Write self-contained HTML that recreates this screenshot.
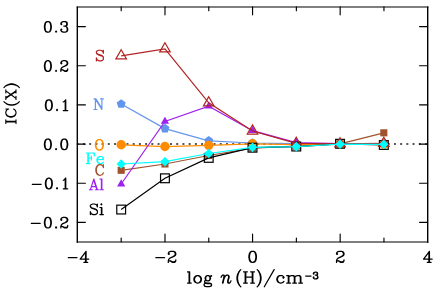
<!DOCTYPE html>
<html><head><meta charset="utf-8"><title>IC(X)</title>
<style>html,body{margin:0;padding:0;background:#fff;}body{width:436px;height:295px;overflow:hidden;position:relative;font-family:"Liberation Sans",sans-serif;}</style>
</head><body>
<svg width="436" height="295" viewBox="0 0 436 295" style="position:absolute;left:0;top:0">
<rect width="436" height="295" fill="#fff"/>
<line x1="77.30" y1="143.95" x2="427.65" y2="143.95" stroke="#222" stroke-width="1.6" stroke-dasharray="2.0 4.22" stroke-dashoffset="0.6"/>
<polyline points="121.18,170.30 164.95,163.99 208.72,155.53 252.50,148.09 296.27,146.13 340.05,143.78 383.83,132.82" fill="none" stroke="#a0522d" stroke-width="1.2"/>
<rect x="117.63" y="166.75" width="7.10" height="7.10" fill="#a0522d"/>
<rect x="161.40" y="160.44" width="7.10" height="7.10" fill="#a0522d"/>
<rect x="205.17" y="151.98" width="7.10" height="7.10" fill="#a0522d"/>
<rect x="248.95" y="144.54" width="7.10" height="7.10" fill="#a0522d"/>
<rect x="292.72" y="142.58" width="7.10" height="7.10" fill="#a0522d"/>
<rect x="336.50" y="140.23" width="7.10" height="7.10" fill="#a0522d"/>
<rect x="380.28" y="129.27" width="7.10" height="7.10" fill="#a0522d"/>
<polyline points="121.18,103.91 164.95,128.59 208.72,140.81 252.50,143.00 296.27,143.59 340.05,143.78 383.83,143.78" fill="none" stroke="#6495ed" stroke-width="1.2"/>
<polygon points="121.18,99.16 125.69,102.44 123.97,107.76 118.38,107.76 116.66,102.44" fill="#6495ed"/>
<polygon points="164.95,123.84 169.47,127.12 167.74,132.43 162.16,132.43 160.43,127.12" fill="#6495ed"/>
<polygon points="208.72,136.06 213.24,139.34 211.52,144.65 205.93,144.65 204.21,139.34" fill="#6495ed"/>
<polygon points="252.50,138.25 257.02,141.53 255.29,146.84 249.71,146.84 247.98,141.53" fill="#6495ed"/>
<polygon points="296.27,138.84 300.79,142.12 299.07,147.43 293.48,147.43 291.76,142.12" fill="#6495ed"/>
<polygon points="340.05,139.03 344.57,142.32 342.84,147.63 337.26,147.63 335.53,142.32" fill="#6495ed"/>
<polygon points="383.83,139.03 388.34,142.32 386.62,147.63 381.03,147.63 379.31,142.32" fill="#6495ed"/>
<polyline points="121.18,144.80 164.95,146.53 208.72,145.35 252.50,143.78 296.27,144.69 340.05,144.18 383.83,144.18" fill="none" stroke="#ff8c00" stroke-width="1.2"/>
<circle cx="121.18" cy="144.80" r="4.7" fill="#ff8c00"/>
<circle cx="164.95" cy="146.53" r="4.7" fill="#ff8c00"/>
<circle cx="208.72" cy="145.35" r="4.7" fill="#ff8c00"/>
<circle cx="252.50" cy="143.78" r="4.7" fill="#ff8c00"/>
<circle cx="296.27" cy="144.69" r="4.7" fill="#ff8c00"/>
<circle cx="340.05" cy="144.18" r="4.7" fill="#ff8c00"/>
<circle cx="383.83" cy="144.18" r="4.7" fill="#ff8c00"/>
<polyline points="121.18,184.01 164.95,121.38 208.72,106.18 252.50,130.66 296.27,142.61 340.05,143.59 383.83,143.78" fill="none" stroke="#a020f0" stroke-width="1.2"/>
<polygon points="121.18,179.26 125.29,186.38 117.06,186.38" fill="#a020f0"/>
<polygon points="164.95,116.63 169.06,123.76 160.84,123.76" fill="#a020f0"/>
<polygon points="208.72,101.43 212.84,108.56 204.61,108.56" fill="#a020f0"/>
<polygon points="252.50,125.91 256.61,133.04 248.39,133.04" fill="#a020f0"/>
<polygon points="296.27,137.86 300.39,144.98 292.16,144.98" fill="#a020f0"/>
<polygon points="340.05,138.84 344.16,145.96 335.94,145.96" fill="#a020f0"/>
<polygon points="383.83,139.03 387.94,146.16 379.71,146.16" fill="#a020f0"/>
<polyline points="121.18,209.55 164.95,178.29 208.72,157.88 252.50,147.70 296.27,146.53 340.05,143.78 383.83,144.96" fill="none" stroke="#000000" stroke-width="1.2"/>
<rect x="116.78" y="205.15" width="8.80" height="8.80" fill="none" stroke="#000000" stroke-width="1.2"/>
<rect x="160.55" y="173.89" width="8.80" height="8.80" fill="none" stroke="#000000" stroke-width="1.2"/>
<rect x="204.32" y="153.48" width="8.80" height="8.80" fill="none" stroke="#000000" stroke-width="1.2"/>
<rect x="248.10" y="143.30" width="8.80" height="8.80" fill="none" stroke="#000000" stroke-width="1.2"/>
<rect x="291.88" y="142.13" width="8.80" height="8.80" fill="none" stroke="#000000" stroke-width="1.2"/>
<rect x="335.65" y="139.38" width="8.80" height="8.80" fill="none" stroke="#000000" stroke-width="1.2"/>
<rect x="379.43" y="140.56" width="8.80" height="8.80" fill="none" stroke="#000000" stroke-width="1.2"/>
<polyline points="121.18,55.82 164.95,48.80 208.72,102.82 252.50,131.02 296.27,143.31 340.05,143.78 383.83,143.39" fill="none" stroke="#b22222" stroke-width="1.2"/>
<polygon points="121.18,49.72 126.46,58.87 115.89,58.87" fill="none" stroke="#b22222" stroke-width="1.2" stroke-linejoin="miter"/>
<polygon points="164.95,42.70 170.23,51.85 159.67,51.85" fill="none" stroke="#b22222" stroke-width="1.2" stroke-linejoin="miter"/>
<polygon points="208.72,96.72 214.01,105.87 203.44,105.87" fill="none" stroke="#b22222" stroke-width="1.2" stroke-linejoin="miter"/>
<polygon points="252.50,124.92 257.78,134.07 247.22,134.07" fill="none" stroke="#b22222" stroke-width="1.2" stroke-linejoin="miter"/>
<polygon points="296.27,137.21 301.56,146.36 290.99,146.36" fill="none" stroke="#b22222" stroke-width="1.2" stroke-linejoin="miter"/>
<polygon points="340.05,137.68 345.33,146.83 334.77,146.83" fill="none" stroke="#b22222" stroke-width="1.2" stroke-linejoin="miter"/>
<polygon points="383.83,137.29 389.11,146.44 378.54,146.44" fill="none" stroke="#b22222" stroke-width="1.2" stroke-linejoin="miter"/>
<polyline points="121.18,163.99 164.95,161.68 208.72,153.50 252.50,147.31 296.27,146.53 340.05,144.18 383.83,144.37" fill="none" stroke="#00ffff" stroke-width="1.2"/>
<polygon points="121.18,159.14 125.78,163.99 121.18,168.84 116.58,163.99" fill="#00ffff"/>
<polygon points="164.95,156.83 169.55,161.68 164.95,166.53 160.35,161.68" fill="#00ffff"/>
<polygon points="208.72,148.65 213.32,153.50 208.72,158.35 204.12,153.50" fill="#00ffff"/>
<polygon points="252.50,142.46 257.10,147.31 252.50,152.16 247.90,147.31" fill="#00ffff"/>
<polygon points="296.27,141.68 300.88,146.53 296.27,151.38 291.67,146.53" fill="#00ffff"/>
<polygon points="340.05,139.33 344.65,144.18 340.05,149.03 335.45,144.18" fill="#00ffff"/>
<polygon points="383.83,139.52 388.43,144.37 383.83,149.22 379.23,144.37" fill="#00ffff"/>
<path d="M76.75 7.0H428.40" stroke="#000" stroke-width="1.15" fill="none"/>
<path d="M76.75 242.0H428.40" stroke="#000" stroke-width="1.22" fill="none"/>
<path d="M77.3 6.45V242.65" stroke="#000" stroke-width="1.38" fill="none"/>
<path d="M427.7 6.45V242.65" stroke="#000" stroke-width="1.4" fill="none"/>
<path d="M121.19 241.85v-3.8M121.19 6.90v3.8M164.99 241.85v-7.9M164.99 6.90v7.9M208.78 241.85v-3.8M208.78 6.90v3.8M252.57 241.85v-7.9M252.57 6.90v7.9M296.37 241.85v-3.8M296.37 6.90v3.8M340.16 241.85v-7.9M340.16 6.90v7.9M383.96 241.85v-3.8M383.96 6.90v3.8M77.30 222.37h8.1M427.65 222.37h-8.1M77.30 183.21h8.1M427.65 183.21h-8.1M77.30 144.05h8.1M427.65 144.05h-8.1M77.30 104.90h8.1M427.65 104.90h-8.1M77.30 65.74h8.1M427.65 65.74h-8.1M77.30 26.58h8.1M427.65 26.58h-8.1" stroke="#000" stroke-width="1.15" stroke-linecap="round" fill="none"/>
<path d="M31.34 223.43L40.16 223.43ZM48.79 217.53L49.83 217.87L50.78 219.33L51.30 221.85L51.30 223.49L50.81 225.95L49.83 227.47L48.79 227.82L48.79 227.75L49.31 227.50L49.86 226.93L50.32 225.98L50.81 223.49L50.81 221.85L50.32 219.39L49.83 218.38L49.31 217.84L48.79 217.59ZM47.04 217.49L47.04 217.56L46.40 217.87L45.91 218.38L45.42 219.39L44.93 221.85L44.93 223.49L45.42 225.98L45.88 226.93L46.40 227.47L47.04 227.78L47.04 227.85L45.91 227.47L44.96 226.02L44.44 223.49L44.44 221.85L44.93 219.39L45.91 217.87ZM47.38 217.37L48.39 217.37L49.31 217.84L49.83 218.38L50.35 219.48L50.81 221.85L50.81 223.49L50.32 225.98L49.86 226.93L49.31 227.50L48.39 227.97L47.38 227.97L46.40 227.47L45.88 226.93L45.42 225.98L44.93 223.49L44.93 221.85L45.42 219.39L45.91 218.38L46.40 217.87ZM47.35 217.37L45.91 217.87L44.93 219.39L44.44 221.85L44.44 223.49L44.93 225.95L45.88 227.44L47.35 227.97L48.39 227.97L49.83 227.47L50.81 225.95L51.30 223.49L51.30 221.85L50.81 219.39L49.86 217.90L48.39 217.37ZM56.07 226.96L56.56 227.47L56.07 227.97L55.58 227.47ZM56.07 226.96L55.58 227.47L56.07 227.97L56.56 227.47ZM67.64 226.58L67.24 227.44L66.72 227.97L64.76 227.97L62.59 226.62L62.65 226.58L64.73 227.47L66.26 227.47L67.18 226.99L67.61 226.55ZM66.72 217.87L67.21 218.38L67.70 219.39L67.70 220.43L67.24 221.38L65.80 222.39L64.02 223.11L64.02 223.05L65.22 222.45L66.75 221.38L67.21 220.43L67.21 219.39L66.72 218.38L66.20 217.84L65.65 217.56L65.74 217.53ZM61.88 217.84L61.33 218.38L60.84 219.39L60.84 219.89L61.33 220.40L61.82 219.89L61.33 219.39L61.82 219.89L61.33 220.40L60.84 219.89L60.84 219.39L61.33 218.38L61.82 217.87L63.26 217.37L65.28 217.37L66.20 217.84L66.72 218.38L67.21 219.39L67.21 220.43L66.69 221.44L65.22 222.45L62.31 223.93L61.33 224.94L60.84 226.43L60.84 227.97L60.84 226.96L61.33 226.46L62.31 226.46L64.76 227.97L66.72 227.97L67.24 227.44L67.70 226.49L67.70 225.45L67.70 226.46L67.18 226.99L66.26 227.47L64.73 227.47L62.34 226.46L61.33 226.46L60.87 226.93L60.84 226.90L60.84 226.43L61.33 224.94L62.31 223.93L63.41 223.37L65.80 222.39L67.18 221.44L67.70 220.43L67.70 219.39L67.21 218.38L66.66 217.84L65.28 217.37L63.26 217.37ZM32.32 184.27L41.14 184.27ZM49.77 178.37L50.81 178.72L51.76 180.17L52.28 182.69L52.28 184.33L51.79 186.79L50.81 188.31L49.77 188.66L49.77 188.59L50.29 188.34L50.84 187.77L51.30 186.83L51.79 184.33L51.79 182.69L51.30 180.23L50.81 179.22L50.29 178.68L49.77 178.43ZM48.02 178.34L48.02 178.40L47.38 178.72L46.89 179.22L46.40 180.23L45.91 182.69L45.91 184.33L46.40 186.83L46.86 187.77L47.38 188.31L48.02 188.63L48.02 188.69L46.89 188.31L45.94 186.86L45.42 184.33L45.42 182.69L45.91 180.23L46.89 178.72ZM48.36 178.21L49.37 178.21L50.29 178.68L50.81 179.22L51.33 180.32L51.79 182.69L51.79 184.33L51.30 186.83L50.84 187.77L50.29 188.34L49.37 188.81L48.36 188.81L47.38 188.31L46.86 187.77L46.40 186.83L45.91 184.33L45.91 182.69L46.40 180.23L46.89 179.22L47.38 178.72ZM48.33 178.21L46.89 178.72L45.91 180.23L45.42 182.69L45.42 184.33L45.91 186.79L46.86 188.28L48.33 188.81L49.37 188.81L50.81 188.31L51.79 186.79L52.28 184.33L52.28 182.69L51.79 180.23L50.84 178.75L49.37 178.21ZM57.05 187.81L57.54 188.31L57.05 188.81L56.56 188.31ZM57.05 187.81L56.56 188.31L57.05 188.81L57.54 188.31ZM65.71 178.24L65.74 188.78L65.28 188.81L65.25 178.72ZM65.74 178.21L64.24 179.76L63.29 180.23L64.24 179.76L65.22 178.75L65.25 178.78L65.25 188.78L63.29 188.81L67.70 188.81L65.74 188.78ZM48.79 139.21L49.83 139.56L50.78 141.01L51.30 143.53L51.30 145.17L50.81 147.64L49.83 149.15L48.79 149.50L48.79 149.44L49.31 149.18L49.86 148.62L50.32 147.67L50.81 145.17L50.81 143.53L50.32 141.07L49.83 140.06L49.31 139.53L48.79 139.27ZM47.04 139.18L47.04 139.24L46.40 139.56L45.91 140.06L45.42 141.07L44.93 143.53L44.93 145.17L45.42 147.67L45.88 148.62L46.40 149.15L47.04 149.47L47.04 149.53L45.91 149.15L44.96 147.70L44.44 145.17L44.44 143.53L44.93 141.07L45.91 139.56ZM47.38 139.05L48.39 139.05L49.31 139.53L49.83 140.06L50.35 141.17L50.81 143.53L50.81 145.17L50.32 147.67L49.86 148.62L49.31 149.18L48.39 149.66L47.38 149.66L46.40 149.15L45.88 148.62L45.42 147.67L44.93 145.17L44.93 143.53L45.42 141.07L45.91 140.06L46.40 139.56ZM47.35 139.05L45.91 139.56L44.93 141.07L44.44 143.53L44.44 145.17L44.93 147.64L45.88 149.12L47.35 149.66L48.39 149.66L49.83 149.15L50.81 147.64L51.30 145.17L51.30 143.53L50.81 141.07L49.86 139.59L48.39 139.05ZM56.07 148.65L56.56 149.15L56.07 149.66L55.58 149.15ZM56.07 148.65L55.58 149.15L56.07 149.66L56.56 149.15ZM65.19 139.21L66.23 139.56L67.18 141.01L67.70 143.53L67.70 145.17L67.21 147.64L66.23 149.15L65.19 149.50L65.19 149.44L65.71 149.18L66.26 148.62L66.72 147.67L67.21 145.17L67.21 143.53L66.72 141.07L66.23 140.06L65.71 139.53L65.19 139.27ZM63.44 139.18L63.44 139.24L62.80 139.56L62.31 140.06L61.82 141.07L61.33 143.53L61.33 145.17L61.82 147.67L62.28 148.62L62.80 149.15L63.44 149.47L63.44 149.53L62.31 149.15L61.36 147.70L60.84 145.17L60.84 143.53L61.33 141.07L62.31 139.56ZM63.78 139.05L64.79 139.05L65.71 139.53L66.23 140.06L66.75 141.17L67.21 143.53L67.21 145.17L66.72 147.67L66.26 148.62L65.71 149.18L64.79 149.66L63.78 149.66L62.80 149.15L62.28 148.62L61.82 147.67L61.33 145.17L61.33 143.53L61.82 141.07L62.31 140.06L62.80 139.56ZM63.75 139.05L62.31 139.56L61.33 141.07L60.84 143.53L60.84 145.17L61.33 147.64L62.28 149.12L63.75 149.66L64.79 149.66L66.23 149.15L67.21 147.64L67.70 145.17L67.70 143.53L67.21 141.07L66.26 139.59L64.79 139.05ZM49.77 100.05L50.81 100.40L51.76 101.85L52.28 104.38L52.28 106.02L51.79 108.48L50.81 109.99L49.77 110.34L49.77 110.28L50.29 110.02L50.84 109.46L51.30 108.51L51.79 106.02L51.79 104.38L51.30 101.91L50.81 100.90L50.29 100.37L49.77 100.11ZM48.02 100.02L48.02 100.08L47.38 100.40L46.89 100.90L46.40 101.91L45.91 104.38L45.91 106.02L46.40 108.51L46.86 109.46L47.38 109.99L48.02 110.31L48.02 110.37L46.89 109.99L45.94 108.54L45.42 106.02L45.42 104.38L45.91 101.91L46.89 100.40ZM48.36 99.89L49.37 99.89L50.29 100.37L50.81 100.90L51.33 102.01L51.79 104.38L51.79 106.02L51.30 108.51L50.84 109.46L50.29 110.02L49.37 110.50L48.36 110.50L47.38 109.99L46.86 109.46L46.40 108.51L45.91 106.02L45.91 104.38L46.40 101.91L46.89 100.90L47.38 100.40ZM48.33 99.89L46.89 100.40L45.91 101.91L45.42 104.38L45.42 106.02L45.91 108.48L46.86 109.96L48.33 110.50L49.37 110.50L50.81 109.99L51.79 108.48L52.28 106.02L52.28 104.38L51.79 101.91L50.84 100.43L49.37 99.89ZM57.05 109.49L57.54 109.99L57.05 110.50L56.56 109.99ZM57.05 109.49L56.56 109.99L57.05 110.50L57.54 109.99ZM65.71 99.92L65.74 110.47L65.28 110.50L65.25 100.40ZM65.74 99.89L64.24 101.44L63.29 101.91L64.24 101.44L65.22 100.43L65.25 100.46L65.25 110.47L63.29 110.50L67.70 110.50L65.74 110.47ZM48.79 60.89L49.83 61.24L50.78 62.69L51.30 65.22L51.30 66.86L50.81 69.32L49.83 70.83L48.79 71.18L48.79 71.12L49.31 70.87L49.86 70.30L50.32 69.35L50.81 66.86L50.81 65.22L50.32 62.75L49.83 61.74L49.31 61.21L48.79 60.96ZM47.04 60.86L47.04 60.92L46.40 61.24L45.91 61.74L45.42 62.75L44.93 65.22L44.93 66.86L45.42 69.35L45.88 70.30L46.40 70.83L47.04 71.15L47.04 71.21L45.91 70.83L44.96 69.38L44.44 66.86L44.44 65.22L44.93 62.75L45.91 61.24ZM47.38 60.73L48.39 60.73L49.31 61.21L49.83 61.74L50.35 62.85L50.81 65.22L50.81 66.86L50.32 69.35L49.86 70.30L49.31 70.87L48.39 71.34L47.38 71.34L46.40 70.83L45.88 70.30L45.42 69.35L44.93 66.86L44.93 65.22L45.42 62.75L45.91 61.74L46.40 61.24ZM47.35 60.73L45.91 61.24L44.93 62.75L44.44 65.22L44.44 66.86L44.93 69.32L45.88 70.80L47.35 71.34L48.39 71.34L49.83 70.83L50.81 69.32L51.30 66.86L51.30 65.22L50.81 62.75L49.86 61.27L48.39 60.73ZM56.07 70.33L56.56 70.83L56.07 71.34L55.58 70.83ZM56.07 70.33L55.58 70.83L56.07 71.34L56.56 70.83ZM67.64 69.95L67.24 70.80L66.72 71.34L64.76 71.34L62.59 69.98L62.65 69.95L64.73 70.83L66.26 70.83L67.18 70.36L67.61 69.92ZM66.72 61.24L67.21 61.74L67.70 62.75L67.70 63.80L67.24 64.74L65.80 65.75L64.03 66.48L64.03 66.42L65.22 65.82L66.75 64.74L67.21 63.80L67.21 62.75L66.72 61.74L66.20 61.21L65.65 60.92L65.74 60.89ZM61.88 61.21L61.33 61.74L60.84 62.75L60.84 63.26L61.33 63.76L61.82 63.26L61.33 62.75L61.82 63.26L61.33 63.76L60.84 63.26L60.84 62.75L61.33 61.74L61.82 61.24L63.26 60.73L65.28 60.73L66.20 61.21L66.72 61.74L67.21 62.75L67.21 63.80L66.69 64.81L65.22 65.82L62.31 67.30L61.33 68.31L60.84 69.79L60.84 71.34L60.84 70.33L61.33 69.82L62.31 69.82L64.76 71.34L66.72 71.34L67.24 70.80L67.70 69.86L67.70 68.81L67.70 69.82L67.18 70.36L66.26 70.83L64.73 70.83L62.34 69.82L61.33 69.82L60.87 70.30L60.84 70.27L60.84 69.79L61.33 68.31L62.31 67.30L63.41 66.73L65.80 65.75L67.18 64.81L67.70 63.80L67.70 62.75L67.21 61.74L66.66 61.21L65.28 60.73L63.26 60.73ZM48.79 21.73L49.83 22.08L50.78 23.53L51.30 26.06L51.30 27.70L50.81 30.16L49.83 31.68L48.79 32.02L48.79 31.96L49.31 31.71L49.86 31.14L50.32 30.19L50.81 27.70L50.81 26.06L50.32 23.60L49.83 22.59L49.31 22.05L48.79 21.80ZM47.04 21.70L47.04 21.77L46.40 22.08L45.91 22.59L45.42 23.60L44.93 26.06L44.93 27.70L45.42 30.19L45.88 31.14L46.40 31.68L47.04 31.99L47.04 32.06L45.91 31.68L44.96 30.22L44.44 27.70L44.44 26.06L44.93 23.60L45.91 22.08ZM47.38 21.58L48.39 21.58L49.31 22.05L49.83 22.59L50.35 23.69L50.81 26.06L50.81 27.70L50.32 30.19L49.86 31.14L49.31 31.71L48.39 32.18L47.38 32.18L46.40 31.68L45.88 31.14L45.42 30.19L44.93 27.70L44.93 26.06L45.42 23.60L45.91 22.59L46.40 22.08ZM47.35 21.58L45.91 22.08L44.93 23.60L44.44 26.06L44.44 27.70L44.93 30.16L45.88 31.65L47.35 32.18L48.39 32.18L49.83 31.68L50.81 30.16L51.30 27.70L51.30 26.06L50.81 23.60L49.86 22.11L48.39 21.58ZM56.07 31.17L56.56 31.68L56.07 32.18L55.58 31.68ZM56.07 31.17L55.58 31.68L56.07 32.18L56.56 31.68ZM66.78 27.19L67.21 27.64L67.70 28.65L67.70 30.19L67.24 31.14L66.72 31.68L65.68 32.02L65.68 31.96L66.20 31.71L66.75 31.14L67.21 30.19L67.21 28.62L66.75 27.26ZM65.68 21.73L66.66 22.05L66.75 22.14L67.21 23.09L67.21 24.64L66.75 25.59L65.68 25.96L65.68 25.90L66.26 25.59L66.72 24.64L66.72 23.09L66.23 22.08L65.68 21.80ZM63.26 21.58L61.82 22.08L61.33 22.59L60.84 23.60L60.84 24.10L61.33 24.61L61.82 24.10L61.33 23.60L61.82 24.10L61.33 24.61L60.84 24.10L60.84 23.60L61.33 22.59L61.82 22.08L63.26 21.58L65.28 21.58L66.23 22.08L66.72 23.09L66.72 24.64L66.26 25.59L65.28 26.12L63.78 26.12L65.28 26.12L66.20 26.60L66.72 27.13L67.21 28.62L67.21 30.19L66.75 31.14L66.20 31.71L65.28 32.18L63.26 32.18L61.88 31.71L61.30 31.14L60.84 30.19L60.84 29.66L61.33 29.15L61.82 29.66L61.33 30.16L61.82 29.66L61.33 29.15L60.84 29.66L60.84 30.19L61.30 31.14L61.82 31.68L63.26 32.18L65.28 32.18L66.66 31.71L67.24 31.14L67.70 30.19L67.70 28.65L67.21 27.64L66.20 26.60L65.28 26.12L66.72 25.62L67.21 24.64L67.21 23.09L66.72 22.08L65.28 21.58ZM68.30 257.63L76.96 257.63ZM85.56 259.22L86.06 259.25L86.03 262.40L85.52 262.37ZM86.03 251.34L86.06 259.19L85.52 259.19L85.52 252.33L85.52 259.19L80.24 259.22L80.21 259.15ZM86.06 251.27L80.17 259.22L85.49 259.22L85.52 262.37L83.92 262.40L87.66 262.40L86.06 262.37L86.06 259.25L88.73 259.22L86.06 259.19ZM155.89 257.63L164.55 257.63ZM175.72 260.94L175.29 261.84L174.72 262.40L172.58 262.40L170.20 260.98L170.27 260.94L172.54 261.87L174.22 261.87L175.22 261.37L175.69 260.91ZM174.72 251.80L175.25 252.33L175.79 253.39L175.79 254.48L175.29 255.48L173.71 256.54L171.77 257.30L171.77 257.23L173.08 256.60L174.75 255.48L175.25 254.48L175.25 253.39L174.72 252.33L174.15 251.77L173.55 251.47L173.65 251.44ZM169.43 251.77L168.83 252.33L168.30 253.39L168.30 253.92L168.83 254.45L169.37 253.92L168.83 253.39L169.37 253.92L168.83 254.45L168.30 253.92L168.30 253.39L168.83 252.33L169.37 251.80L170.94 251.27L173.15 251.27L174.15 251.77L174.72 252.33L175.25 253.39L175.25 254.48L174.68 255.54L173.08 256.60L169.90 258.16L168.83 259.22L168.30 260.78L168.30 262.40L168.30 261.34L168.83 260.81L169.90 260.81L172.58 262.40L174.72 262.40L175.29 261.84L175.79 260.84L175.79 259.75L175.79 260.81L175.22 261.37L174.22 261.87L172.54 261.87L169.94 260.81L168.83 260.81L168.33 261.31L168.30 261.27L168.30 260.78L168.83 259.22L169.90 258.16L171.11 257.56L173.71 256.54L175.22 255.54L175.79 254.48L175.79 253.39L175.25 252.33L174.65 251.77L173.15 251.27L170.94 251.27ZM253.68 251.44L254.81 251.80L255.85 253.32L256.42 255.97L256.42 257.70L255.88 260.28L254.81 261.87L253.68 262.23L253.68 262.17L254.25 261.90L254.85 261.31L255.35 260.31L255.88 257.70L255.88 255.97L255.35 253.39L254.81 252.33L254.25 251.77L253.68 251.50ZM251.77 251.40L251.77 251.47L251.07 251.80L250.53 252.33L250.00 253.39L249.46 255.97L249.46 257.70L250.00 260.31L250.50 261.31L251.07 261.87L251.77 262.20L251.77 262.27L250.53 261.87L249.50 260.35L248.93 257.70L248.93 255.97L249.46 253.39L250.53 251.80ZM252.14 251.27L253.24 251.27L254.25 251.77L254.81 252.33L255.38 253.49L255.88 255.97L255.88 257.70L255.35 260.31L254.85 261.31L254.25 261.90L253.24 262.40L252.14 262.40L251.07 261.87L250.50 261.31L250.00 260.31L249.46 257.70L249.46 255.97L250.00 253.39L250.53 252.33L251.07 251.80ZM252.11 251.27L250.53 251.80L249.46 253.39L248.93 255.97L248.93 257.70L249.46 260.28L250.50 261.84L252.11 262.40L253.24 262.40L254.81 261.87L255.88 260.28L256.42 257.70L256.42 255.97L255.88 253.39L254.85 251.83L253.24 251.27ZM343.94 260.94L343.51 261.84L342.94 262.40L340.80 262.40L338.42 260.98L338.49 260.94L340.76 261.87L342.44 261.87L343.44 261.37L343.91 260.91ZM342.94 251.80L343.47 252.33L344.01 253.39L344.01 254.48L343.51 255.48L341.93 256.54L339.99 257.30L339.99 257.23L341.30 256.60L342.97 255.48L343.47 254.48L343.47 253.39L342.94 252.33L342.37 251.77L341.77 251.47L341.87 251.44ZM337.65 251.77L337.05 252.33L336.52 253.39L336.52 253.92L337.05 254.45L337.59 253.92L337.05 253.39L337.59 253.92L337.05 254.45L336.52 253.92L336.52 253.39L337.05 252.33L337.59 251.80L339.16 251.27L341.37 251.27L342.37 251.77L342.94 252.33L343.47 253.39L343.47 254.48L342.90 255.54L341.30 256.60L338.12 258.16L337.05 259.22L336.52 260.78L336.52 262.40L336.52 261.34L337.05 260.81L338.12 260.81L340.80 262.40L342.94 262.40L343.51 261.84L344.01 260.84L344.01 259.75L344.01 260.81L343.44 261.37L342.44 261.87L340.76 261.87L338.16 260.81L337.05 260.81L336.55 261.31L336.52 261.27L336.52 260.78L337.05 259.22L338.12 258.16L339.33 257.56L341.93 256.54L343.44 255.54L344.01 254.48L344.01 253.39L343.47 252.33L342.87 251.77L341.37 251.27L339.16 251.27ZM428.95 259.22L429.45 259.25L429.42 262.40L428.92 262.37ZM429.42 251.34L429.45 259.19L428.92 259.19L428.92 252.33L428.92 259.19L423.64 259.22L423.60 259.15ZM429.45 251.27L423.57 259.22L428.89 259.22L428.92 262.37L427.31 262.40L431.06 262.40L429.45 262.37L429.45 259.25L432.13 259.22L429.45 259.19ZM189.14 271.98L189.64 272.01L189.61 283.00L189.11 282.97ZM187.50 271.98L189.11 272.01L189.11 282.97L187.50 283.00L191.25 283.00L189.64 282.97L189.64 271.98ZM198.67 275.81L199.81 276.18L200.88 277.23L201.41 278.77L201.41 279.88L200.88 281.43L199.81 282.48L198.67 282.84L198.67 282.77L199.24 282.51L200.34 281.43L200.88 279.88L200.88 278.77L200.34 277.23L199.24 276.14L198.67 275.88ZM196.76 275.78L196.76 275.85L196.06 276.18L194.99 277.23L194.45 278.77L194.45 279.88L194.99 281.43L196.06 282.48L196.76 282.80L196.76 282.87L195.53 282.48L194.45 281.43L193.92 279.88L193.92 278.77L194.45 277.23L195.53 276.18ZM197.13 275.65L198.23 275.65L199.24 276.14L200.34 277.23L200.88 278.77L200.88 279.88L200.34 281.43L199.24 282.51L198.23 283.00L197.13 283.00L196.06 282.48L194.99 281.43L194.45 279.88L194.45 278.77L194.99 277.23L196.06 276.18ZM197.10 275.65L195.53 276.18L194.45 277.23L193.92 278.77L193.92 279.88L194.45 281.43L195.53 282.48L197.10 283.00L198.23 283.00L199.81 282.48L200.88 281.43L201.41 279.88L201.41 278.77L200.88 277.23L199.81 276.18L198.23 275.65ZM204.08 284.57L204.59 283.59L204.69 283.49L205.69 283.16L206.73 283.52L209.47 283.52L210.97 284.02L211.57 284.57L211.57 285.13L211.04 286.15L209.47 286.68L206.19 286.68L204.59 286.12L204.08 285.13ZM204.69 282.08L204.72 282.05L205.22 282.51L206.73 283.00L209.47 283.00L210.97 283.49L211.07 283.59L211.47 284.41L211.44 284.44L210.97 284.02L209.47 283.52L206.73 283.52L205.82 283.23L205.76 283.16L206.22 283.00L205.76 283.16L205.22 283.03L205.12 282.97ZM209.54 276.27L209.97 276.70L210.50 277.75L210.50 278.83L210.00 279.82L209.57 280.24L209.54 280.18L209.97 279.36L209.97 277.23L209.50 276.34ZM206.12 276.27L206.16 276.34L205.69 277.23L205.69 279.36L206.12 280.18L206.09 280.24L205.66 279.82L205.15 278.83L205.15 277.75L205.69 276.70ZM211.57 275.72L211.54 276.18L210.61 276.14L211.51 275.68ZM207.29 275.65L208.40 275.65L209.40 276.14L209.97 277.23L209.97 279.36L209.47 280.34L208.40 280.90L207.29 280.90L206.22 280.38L205.69 279.36L205.69 277.23L206.19 276.24L206.29 276.14ZM207.29 275.65L206.22 276.18L205.69 276.70L205.15 277.75L205.15 278.83L205.69 279.85L205.15 280.38L204.62 281.43L204.62 281.98L205.12 282.97L205.62 283.16L205.56 283.23L204.62 283.52L204.08 284.57L204.08 285.13L204.62 286.15L206.19 286.68L209.47 286.68L211.04 286.15L211.57 285.13L211.57 284.57L211.04 283.52L209.47 283.00L206.73 283.00L205.15 282.48L204.62 281.95L204.62 281.43L205.15 280.38L205.69 279.85L206.22 280.38L207.29 280.90L208.40 280.90L209.40 280.41L210.00 279.82L210.50 278.83L210.50 277.75L209.97 276.70L210.50 276.18L211.57 276.18L211.57 275.65L210.50 276.18L209.97 276.70L209.40 276.14L208.40 275.65ZM227.82 275.16L228.61 275.62L229.11 276.22L229.11 277.39L228.17 280.70L228.17 282.44L228.61 282.96L228.58 283.00L228.17 283.00L227.70 282.44L227.70 280.70L228.64 277.39L228.64 276.22L227.79 275.20ZM221.10 277.35L221.57 276.22L222.51 275.09L223.46 275.09L223.93 275.65L223.93 276.86L223.49 278.97L222.51 283.00L223.49 278.97L223.93 276.86L223.93 275.65L223.49 275.13L223.52 275.09L223.93 275.09L224.40 275.65L224.40 276.86L223.96 278.97L222.99 283.00L223.90 279.12L224.87 276.79L225.81 275.65L226.76 275.09L227.70 275.09L228.64 276.22L228.64 277.39L227.70 280.70L227.70 282.44L228.17 283.00L229.59 283.00L230.56 281.83L231.00 280.78L230.56 281.83L229.59 283.00L228.64 283.00L228.17 282.44L228.17 280.70L229.11 277.39L229.11 276.22L228.61 275.62L227.73 275.09L226.76 275.09L225.81 275.65L224.87 276.79L224.02 278.83L223.99 278.73L224.40 276.86L224.40 275.65L223.93 275.09L222.51 275.09L221.57 276.22ZM239.49 271.06L239.53 271.13L238.60 272.90L238.09 274.41L237.55 277.05L237.55 279.32L238.06 281.83L238.64 283.57L239.46 285.14L239.42 285.21L238.60 284.04L237.55 281.96L237.00 279.32L237.00 277.05L237.55 274.44L238.67 272.23ZM240.82 269.62L239.70 270.73L238.67 272.23L237.55 274.44L237.00 277.05L237.00 279.32L237.55 281.96L238.60 284.04L239.70 285.64L240.82 286.75L239.70 285.64L238.64 283.57L238.09 281.96L237.55 279.32L237.55 277.05L238.09 274.41L238.60 272.90L239.73 270.69ZM252.32 271.76L252.83 271.80L252.80 283.00L252.29 282.97ZM245.22 271.76L245.74 271.80L245.70 283.00L245.19 282.97ZM243.55 271.76L245.19 271.80L245.19 282.97L243.55 283.00L247.37 283.00L245.74 282.97L245.77 277.12L252.25 277.12L252.29 282.97L250.65 283.00L254.47 283.00L252.83 282.97L252.83 271.80L254.47 271.76L250.65 271.76L252.29 271.80L252.25 277.12L245.77 277.12L245.74 271.80L247.37 271.76ZM258.53 271.06L259.35 272.23L260.48 274.44L261.02 277.05L261.02 279.32L260.48 281.96L259.42 284.04L258.60 285.21L258.57 285.14L259.39 283.57L259.97 281.83L260.48 279.32L260.48 277.05L259.93 274.41L259.42 272.90L258.50 271.13ZM257.20 269.62L258.29 270.69L259.42 272.90L259.93 274.41L260.48 277.05L260.48 279.32L259.93 281.96L259.39 283.57L258.33 285.64L257.20 286.75L258.33 285.64L259.42 284.04L260.48 281.96L261.02 279.32L261.02 277.05L260.48 274.44L259.35 272.23L258.33 270.73ZM274.13 269.62L264.30 286.75ZM279.76 275.64L279.76 275.71L279.04 276.05L277.95 277.12L277.40 278.69L277.40 279.82L277.95 281.39L279.04 282.46L279.76 282.80L279.76 282.87L278.50 282.46L277.40 281.39L276.86 279.82L276.86 278.69L277.40 277.12L278.50 276.05ZM280.10 275.51L278.50 276.05L277.40 277.12L276.86 278.69L276.86 279.82L277.40 281.39L278.50 282.46L280.10 283.00L281.26 283.00L282.86 282.46L283.96 281.39L282.86 282.46L281.26 283.00L280.13 283.00L279.04 282.46L277.95 281.39L277.40 279.82L277.40 278.69L277.92 277.18L279.04 276.05L280.13 275.51L281.81 275.51L282.83 276.01L283.96 277.12L283.96 277.65L283.41 278.19L282.86 277.65L283.41 277.12L282.86 277.65L283.41 278.19L283.96 277.65L283.96 277.12L282.83 276.01L281.81 275.51ZM299.18 275.68L300.27 276.01L300.37 276.11L300.88 277.12L300.85 283.00L300.34 282.97L300.34 277.12L299.79 276.05L299.18 275.74ZM293.17 275.68L294.26 276.01L294.36 276.11L294.88 277.12L294.84 283.00L294.33 282.97L294.33 277.12L293.78 276.05L293.17 275.74ZM288.36 275.51L288.87 275.54L288.84 283.00L288.32 282.97ZM286.69 275.51L288.32 275.54L288.32 282.97L286.69 283.00L290.51 283.00L288.87 282.97L288.87 277.12L289.96 276.05L291.57 275.51L292.73 275.51L293.75 276.01L294.33 277.12L294.33 282.97L292.69 283.00L296.51 283.00L294.88 282.97L294.88 277.12L295.97 276.05L297.57 275.51L298.73 275.51L299.76 276.01L300.34 277.12L300.34 282.97L298.70 283.00L302.52 283.00L300.88 282.97L300.88 277.12L300.34 276.05L298.73 275.51L297.57 275.51L295.97 276.05L294.88 277.12L294.33 276.05L292.73 275.51L291.57 275.51L289.96 276.05L288.90 277.08L288.87 275.51ZM305.71 276.04L311.02 276.04ZM317.28 275.76L317.57 276.04L317.90 276.67L317.90 277.65L317.59 278.24L317.24 278.58L316.55 278.80L316.55 278.76L316.90 278.60L317.26 278.24L317.57 277.65L317.57 276.65L317.26 275.80ZM316.55 272.32L317.20 272.52L317.26 272.58L317.57 273.18L317.57 274.15L317.26 274.75L316.55 274.98L316.55 274.94L316.94 274.75L317.24 274.15L317.24 273.18L316.92 272.54L316.55 272.36ZM314.93 272.22L313.97 272.54L313.64 272.86L313.31 273.49L313.31 273.81L313.64 274.13L313.97 273.81L313.64 273.49L313.97 273.81L313.64 274.13L313.31 273.81L313.31 273.49L313.64 272.86L313.97 272.54L314.93 272.22L316.28 272.22L316.92 272.54L317.24 273.18L317.24 274.15L316.94 274.75L316.28 275.08L315.28 275.08L316.28 275.08L316.90 275.38L317.24 275.72L317.57 276.65L317.57 277.65L317.26 278.24L316.90 278.60L316.28 278.90L314.93 278.90L314.01 278.60L313.62 278.24L313.31 277.65L313.31 277.31L313.64 276.99L313.97 277.31L313.64 277.63L313.97 277.31L313.64 276.99L313.31 277.31L313.31 277.65L313.62 278.24L313.97 278.58L314.93 278.90L316.28 278.90L317.20 278.60L317.59 278.24L317.90 277.65L317.90 276.67L317.57 276.04L316.90 275.38L316.28 275.08L317.24 274.77L317.57 274.15L317.57 273.18L317.24 272.54L316.28 272.22Z" stroke="#000" fill="none" stroke-width="1.25" stroke-linejoin="round" stroke-linecap="round"/>
<path transform="translate(16.0,124.57) rotate(-90)" d="M2.71 -10.19L3.21 -10.15L3.18 0.00L2.68 -0.03ZM1.07 -10.19L2.68 -10.15L2.68 -0.03L1.07 0.00L4.82 0.00L3.21 -0.03L3.21 -10.15L4.82 -10.19ZM15.48 -10.06L15.48 -7.40L14.98 -8.70ZM10.87 -10.06L10.87 -10.00L10.17 -9.70L9.10 -8.73L8.53 -7.70L8.03 -6.34L8.03 -3.85L8.56 -2.39L9.06 -1.49L10.17 -0.48L10.87 -0.18L10.87 -0.12L9.63 -0.48L8.53 -1.49L8.03 -2.39L7.49 -3.85L7.49 -6.34L7.99 -7.70L8.56 -8.73L9.63 -9.70ZM15.52 -10.19L14.98 -8.76L13.84 -9.73L12.34 -10.19L11.20 -10.19L9.63 -9.70L8.56 -8.73L7.99 -7.70L7.49 -6.34L7.49 -3.85L8.03 -2.39L8.53 -1.49L9.63 -0.48L11.20 0.00L12.34 0.00L13.84 -0.45L15.01 -1.49L15.52 -2.42L15.01 -1.49L13.91 -0.48L12.34 0.00L11.24 0.00L10.17 -0.48L9.06 -1.49L8.56 -2.39L8.03 -3.85L8.03 -6.34L8.53 -7.70L9.10 -8.73L10.17 -9.70L11.24 -10.19L12.34 -10.19L13.91 -9.70L14.98 -8.73L15.52 -7.27ZM21.70 -10.82L21.73 -10.76L20.83 -9.15L20.33 -7.79L19.80 -5.40L19.80 -3.33L20.30 -1.06L20.87 0.52L21.67 1.94L21.63 2.00L20.83 0.94L19.80 -0.94L19.26 -3.33L19.26 -5.40L19.80 -7.76L20.90 -9.76ZM23.01 -12.12L21.90 -11.12L20.90 -9.76L19.80 -7.76L19.26 -5.40L19.26 -3.33L19.80 -0.94L20.83 0.94L21.90 2.39L23.01 3.40L21.90 2.39L20.87 0.52L20.33 -0.94L19.80 -3.33L19.80 -5.40L20.33 -7.79L20.83 -9.15L21.94 -11.15ZM30.09 -5.27L33.64 -0.12L33.64 0.00L33.14 -0.03L29.83 -4.91ZM26.28 -10.19L26.78 -10.15L30.09 -5.27L29.83 -4.91L26.28 -10.06ZM25.14 -10.19L26.25 -10.15L29.83 -4.91L26.25 -0.03L25.14 0.00L28.36 0.00L26.28 0.00L26.25 -0.06L29.83 -4.88L33.14 -0.06L33.10 0.00L31.56 0.00L34.77 0.00L33.67 -0.03L30.09 -5.27L33.67 -10.15L34.77 -10.19L31.56 -10.19L33.64 -10.19L33.67 -10.12L30.09 -5.30L26.78 -10.12L26.82 -10.19L28.36 -10.19ZM38.22 -10.82L39.02 -9.76L40.12 -7.76L40.66 -5.40L40.66 -3.33L40.12 -0.94L39.09 0.94L38.29 2.00L38.25 1.94L39.05 0.52L39.62 -1.06L40.12 -3.33L40.12 -5.40L39.59 -7.79L39.09 -9.15L38.19 -10.76ZM36.91 -12.12L37.98 -11.15L39.09 -9.15L39.59 -7.79L40.12 -5.40L40.12 -3.33L39.59 -0.94L39.05 0.52L38.02 2.39L36.91 3.40L38.02 2.39L39.09 0.94L40.12 -0.94L40.66 -3.33L40.66 -5.40L40.12 -7.76L39.02 -9.76L38.02 -11.12Z" stroke="#000" fill="none" stroke-width="1.1" stroke-linejoin="round" stroke-linecap="round"/>
<path d="M96.40 57.98L96.87 59.35L96.40 60.77ZM96.43 52.91L96.47 52.88L97.38 53.80L98.44 54.34L101.42 55.32L102.36 55.80L102.90 56.34L103.31 57.19L103.27 57.22L102.36 56.31L101.42 55.83L98.44 54.85L97.38 54.31L96.84 53.77ZM103.37 50.38L103.37 53.17L102.90 51.81ZM103.40 50.25L102.90 51.74L101.83 50.73L100.42 50.25L98.85 50.25L97.38 50.76L96.37 51.77L96.37 52.82L96.84 53.77L97.38 54.31L98.44 54.85L101.42 55.83L102.36 56.31L103.40 57.35L103.40 59.38L102.40 60.39L100.92 60.90L99.35 60.90L97.88 60.39L96.87 59.38L96.37 57.86L96.37 60.90L96.87 59.41L97.94 60.42L99.35 60.90L100.92 60.90L102.40 60.39L103.40 59.38L103.40 57.35L102.90 56.34L102.36 55.80L101.42 55.32L98.44 54.34L97.38 53.80L96.37 52.79L96.37 51.77L97.38 50.76L98.85 50.25L100.42 50.25L101.89 50.76L102.90 51.77L103.40 53.30Z" stroke="#b22222" fill="none" stroke-width="1.15" stroke-linejoin="round" stroke-linecap="round"/>
<path d="M93.86 98.85L95.37 98.88L95.37 109.47L93.86 109.50L96.87 109.50L95.37 109.47L95.40 98.85L95.90 98.88L101.89 108.49L101.89 109.40L101.86 109.44L95.87 99.87L101.89 109.50L101.89 98.88L103.40 98.85L100.39 98.85L101.89 98.88L101.86 108.42L95.90 98.88Z" stroke="#6495ed" fill="none" stroke-width="1.15" stroke-linejoin="round" stroke-linecap="round"/>
<path d="M100.33 139.61L101.39 139.96L102.40 140.97L102.90 141.99L103.40 143.98L103.40 145.60L102.93 147.50L102.43 148.55L101.39 149.59L100.33 149.94L100.33 149.88L100.86 149.62L101.93 148.55L102.40 147.60L102.90 145.60L102.90 143.98L102.40 141.99L101.89 140.97L100.86 139.93L100.33 139.67ZM98.54 139.58L98.54 139.64L97.88 139.96L96.87 140.97L96.37 141.99L95.87 143.98L95.87 145.60L96.34 147.50L96.84 148.55L97.88 149.59L98.54 149.91L98.54 149.97L97.38 149.59L96.34 148.55L95.87 147.60L95.37 145.60L95.37 143.98L95.87 141.99L96.37 140.97L97.38 139.96ZM98.88 139.45L99.92 139.45L100.86 139.93L101.89 140.97L102.40 141.99L102.90 143.98L102.90 145.60L102.40 147.60L101.93 148.55L100.86 149.62L99.92 150.10L98.88 150.10L97.88 149.59L96.84 148.55L96.37 147.60L95.87 145.60L95.87 143.98L96.37 141.99L96.87 140.97L97.88 139.96ZM98.85 139.45L97.38 139.96L96.37 140.97L95.87 141.99L95.37 143.98L95.37 145.60L95.84 147.50L96.34 148.55L97.38 149.59L98.85 150.10L99.92 150.10L101.39 149.59L102.43 148.55L102.90 147.60L103.40 145.60L103.40 143.98L102.90 141.99L102.40 140.97L101.39 139.96L99.92 139.45Z" stroke="#ff8c00" fill="none" stroke-width="1.15" stroke-linejoin="round" stroke-linecap="round"/>
<path d="M93.89 152.95L94.36 152.98L94.33 155.74L93.86 153.05ZM87.87 152.95L88.34 152.98L88.31 163.60L87.84 163.57ZM94.36 152.95L86.33 152.95L87.84 152.98L87.84 163.57L86.33 163.60L89.85 163.60L88.34 163.57L88.37 158.02L91.32 158.02L91.35 160.05L91.35 156.00L91.32 158.02L88.34 157.99L88.34 152.98L93.83 152.95L93.89 153.08L94.36 156.00ZM102.49 157.10L102.90 157.52L103.40 158.53L103.37 159.54L102.90 159.51L102.90 158.02L102.46 157.17ZM99.54 156.63L99.54 156.69L98.88 157.01L97.88 158.02L97.38 159.51L97.38 160.59L97.88 162.08L98.88 163.09L99.54 163.41L99.54 163.47L98.38 163.09L97.38 162.08L96.87 160.59L96.87 159.51L97.38 158.02L98.38 157.01ZM97.38 159.51L97.88 158.02L98.88 157.01L99.89 156.50L101.42 156.50L102.40 157.01L102.90 158.02L102.87 159.54ZM99.85 156.50L98.38 157.01L97.38 158.02L96.87 159.51L96.87 160.59L97.38 162.08L98.38 163.09L99.85 163.60L100.92 163.60L102.40 163.09L103.40 162.08L102.33 163.12L100.92 163.60L99.89 163.60L98.88 163.09L97.88 162.08L97.38 160.59L97.38 159.58L103.40 159.54L103.40 158.53L102.90 157.52L102.36 156.98L101.42 156.50Z" stroke="#00ffff" fill="none" stroke-width="1.15" stroke-linejoin="round" stroke-linecap="round"/>
<path d="M103.37 164.78L103.37 167.57L102.90 166.21ZM99.04 164.78L99.04 164.84L98.38 165.16L97.38 166.17L96.84 167.25L96.37 168.68L96.37 171.28L96.87 172.80L97.34 173.75L98.38 174.79L99.04 175.11L99.04 175.17L97.88 174.79L96.84 173.75L96.37 172.80L95.87 171.28L95.87 168.68L96.34 167.25L96.87 166.17L97.88 165.16ZM103.40 164.65L102.90 166.14L101.83 165.13L100.42 164.65L99.35 164.65L97.88 165.16L96.87 166.17L96.34 167.25L95.87 168.68L95.87 171.28L96.37 172.80L96.84 173.75L97.88 174.79L99.35 175.30L100.42 175.30L101.83 174.82L102.93 173.75L103.40 172.76L102.93 173.75L101.89 174.79L100.42 175.30L99.38 175.30L98.38 174.79L97.34 173.75L96.87 172.80L96.37 171.28L96.37 168.68L96.84 167.25L97.38 166.17L98.38 165.16L99.38 164.65L100.42 164.65L101.89 165.16L102.90 166.17L103.40 167.69Z" stroke="#a0522d" fill="none" stroke-width="1.15" stroke-linejoin="round" stroke-linecap="round"/>
<path d="M93.86 179.08L97.38 189.67L97.34 189.70L96.91 189.70L96.84 189.64L93.86 180.57L95.87 186.63L91.35 186.63ZM93.86 179.05L90.38 189.64L90.32 189.70L89.34 189.70L92.36 189.70L90.35 189.67L91.32 186.72L91.38 186.66L95.84 186.66L95.90 186.72L96.87 189.67L95.37 189.70L98.38 189.70L97.41 189.70L97.34 189.64ZM101.42 179.05L101.89 179.08L101.86 189.70L101.39 189.67ZM99.89 179.05L101.39 179.08L101.39 189.67L99.89 189.70L103.40 189.70L101.89 189.67L101.89 179.05Z" stroke="#a020f0" fill="none" stroke-width="1.15" stroke-linejoin="round" stroke-linecap="round"/>
<path d="M90.38 211.68L90.85 213.05L90.38 214.47ZM90.41 206.61L90.44 206.58L91.35 207.50L92.42 208.04L95.40 209.02L96.34 209.50L96.87 210.04L97.28 210.89L97.25 210.92L96.34 210.01L95.40 209.53L92.42 208.55L91.35 208.01L90.82 207.47ZM97.34 204.08L97.34 206.87L96.87 205.51ZM97.38 203.95L96.87 205.44L95.81 204.43L94.40 203.95L92.83 203.95L91.35 204.46L90.35 205.47L90.35 206.52L90.82 207.47L91.35 208.01L92.42 208.55L95.40 209.53L96.34 210.01L97.38 211.05L97.38 213.08L96.37 214.09L94.90 214.60L93.33 214.60L91.85 214.09L90.85 213.08L90.35 211.56L90.35 214.60L90.85 213.11L91.92 214.12L93.33 214.60L94.90 214.60L96.37 214.09L97.38 213.08L97.38 211.05L96.87 210.04L96.34 209.50L95.40 209.02L92.42 208.04L91.35 207.50L90.35 206.49L90.35 205.47L91.35 204.46L92.83 203.95L94.40 203.95L95.87 204.46L96.87 205.47L97.38 207.00ZM101.42 207.50L101.89 207.53L101.86 214.60L101.39 214.57ZM99.89 207.50L101.39 207.53L101.39 214.57L99.89 214.60L103.40 214.60L101.89 214.57L101.89 207.50ZM101.39 203.95L101.89 204.46L101.39 204.97L100.89 204.46ZM101.39 203.95L100.89 204.46L101.39 204.97L101.89 204.46Z" stroke="#000000" fill="none" stroke-width="1.15" stroke-linejoin="round" stroke-linecap="round"/>
</svg>
</body></html>
